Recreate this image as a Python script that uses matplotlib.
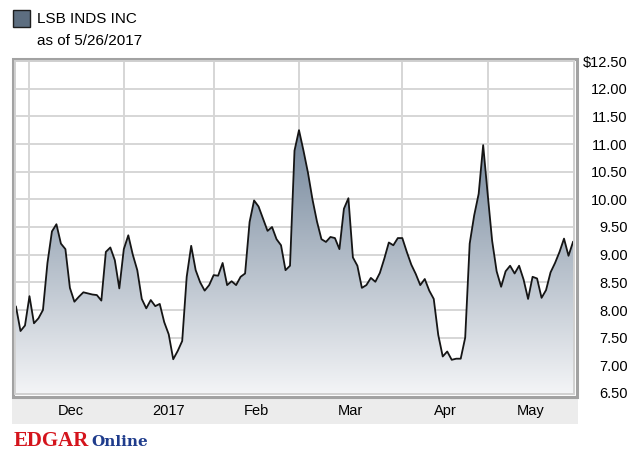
import numpy as np
import matplotlib
matplotlib.use('Agg')
import matplotlib.pyplot as plt
from matplotlib.patches import Rectangle
from matplotlib.colors import LinearSegmentedColormap
from matplotlib.ticker import FuncFormatter

# daily closes, one per trading day (Nov 28 2016 .. May 26 2017)
prices = [8.06, 7.62, 7.72, 8.25, 7.76, 7.85, 8.00, 8.85, 9.42, 9.55,
          9.20, 9.10, 8.40, 8.15, 8.24, 8.32, 8.30, 8.28, 8.27, 8.17,
          9.05, 9.13, 8.90, 8.39, 9.10, 9.35, 9.00, 8.72, 8.20, 8.03,
          8.18, 8.07, 8.11, 7.78, 7.56, 7.11, 7.26, 7.44, 8.60, 9.16,
          8.72, 8.50, 8.35, 8.45, 8.63, 8.62, 8.85, 8.45, 8.52, 8.45,
          8.60, 8.66, 9.59, 9.98, 9.87, 9.65, 9.43, 9.50, 9.28, 9.17,
          8.72, 8.80, 10.88, 11.25, 10.88, 10.48, 10.00, 9.60, 9.28, 9.23,
          9.32, 9.30, 9.10, 9.83, 10.02, 8.95, 8.80, 8.40, 8.45, 8.58,
          8.51, 8.67, 8.93, 9.22, 9.17, 9.30, 9.30, 9.05, 8.82, 8.65,
          8.45, 8.56, 8.35, 8.20, 7.55, 7.16, 7.25, 7.10, 7.12, 7.12,
          7.50, 9.20, 9.71, 10.10, 10.98, 10.10, 9.25, 8.70, 8.42, 8.70,
          8.80, 8.66, 8.80, 8.55, 8.20, 8.60, 8.57, 8.22, 8.36, 8.68,
          8.85, 9.05, 9.29, 8.98, 9.23]

# index of the first trading day of each month
month_start = [3, 24, 44, 63, 86, 105]
month_labels = ['Dec', '2017', 'Feb', 'Mar', 'Apr', 'May']
y_ticks = [6.5, 7.0, 7.5, 8.0, 8.5, 9.0, 9.5, 10.0, 10.5, 11.0, 11.5, 12.0, 12.5]

W, H = 639, 450
def fx(px):
    return px / W
def fy(py):
    return 1 - py / H

x = np.arange(len(prices))
last = len(prices) - 1

fig = plt.figure(figsize=(W / 100, H / 100), dpi=100)
ax = fig.add_axes([fx(16), fy(393), fx(573) - fx(16), fy(61) - fy(393)])

# gradient area under the line
cmap = LinearSegmentedColormap.from_list('area', ['#f3f4f6', '#72859a'])
grad = np.linspace(0, 1, 256).reshape(-1, 1)
im = ax.imshow(grad, extent=[0, last, 6.5, 11.3], origin='lower', cmap=cmap,
               aspect='auto', zorder=2)
area = ax.fill_between(x, prices, 6.5, facecolor='none', edgecolor='none')
im.set_clip_path(area.get_paths()[0], transform=ax.transData)
ax.plot(x, prices, color='#151515', lw=1.3, zorder=3)

ax.set_xlim(0, last)
ax.set_ylim(6.5, 12.5)

# grid
ax.set_yticks(y_ticks)
ax.set_xticks(month_start)
ax.set_xticklabels([])
ax.grid(True, color='#d6d6d6', lw=1.4)
ax.set_axisbelow(True)
for s in ax.spines.values():
    s.set_visible(False)

# month labels centred between month starts
ends = month_start[1:] + [last]
mids = [(a + b) / 2 for a, b in zip(month_start, ends)]
mids[0] -= 1.2
ax.set_xticks(mids, month_labels, minor=True)
ax.tick_params(axis='x', which='both', length=0, pad=8)
for lbl in ax.get_xticklabels(minor=True):
    lbl.set_fontfamily('Liberation Sans')
    lbl.set_fontsize(10.5)

# price labels on the right, right aligned
ax.yaxis.tick_right()
ax.yaxis.set_major_formatter(FuncFormatter(
    lambda v, p: '$%.2f' % v if v == 12.5 else '%.2f' % v))
ax.tick_params(axis='y', length=0, pad=39.5)
for lbl in ax.get_yticklabels():
    lbl.set_ha('right')
    lbl.set_fontfamily('Liberation Sans')
    lbl.set_fontsize(10.5)

# grey band behind month labels
fig.add_artist(Rectangle((fx(12), fy(424)), fx(578) - fx(12), 26 / H,
                         transform=fig.transFigure, facecolor='#ececec',
                         edgecolor='none', zorder=-1))

# bevelled frame
fig.add_artist(Rectangle((fx(12.5), fy(396.5)), fx(576.5) - fx(12.5), 338 / H,
                         transform=fig.transFigure, facecolor='none',
                         edgecolor='#a2a2a2', lw=2.2, zorder=5))
fig.add_artist(Rectangle((fx(15), fy(394)), fx(574) - fx(15), 333 / H,
                         transform=fig.transFigure, facecolor='none',
                         edgecolor='#d0d0d0', lw=1.4, zorder=5))

# legend square and title
fig.add_artist(Rectangle((fx(13), fy(27)), 17 / W, 17 / H,
                         transform=fig.transFigure, facecolor='#5d6e80',
                         edgecolor='#1e1e1e', lw=1))
fig.text(fx(37), fy(23), 'LSB INDS INC', fontsize=11,
         family='Liberation Sans', va='baseline')
fig.text(fx(37), fy(45), 'as of 5/26/2017', fontsize=11,
         family='Liberation Sans', va='baseline')

# EDGAR Online logo
t1 = fig.text(fx(14), fy(446), 'EDGAR', color='#d4141c', fontsize=15,
              fontweight='bold', family='Liberation Serif', va='baseline')
fig.canvas.draw()
bb = t1.get_window_extent()
fig.text(bb.x1 / W + 2 / W, fy(446), 'Online', color='#1f3c8c', fontsize=11,
         fontweight='bold', family='DejaVu Serif', va='baseline')

fig.savefig('out.png', dpi=100)
